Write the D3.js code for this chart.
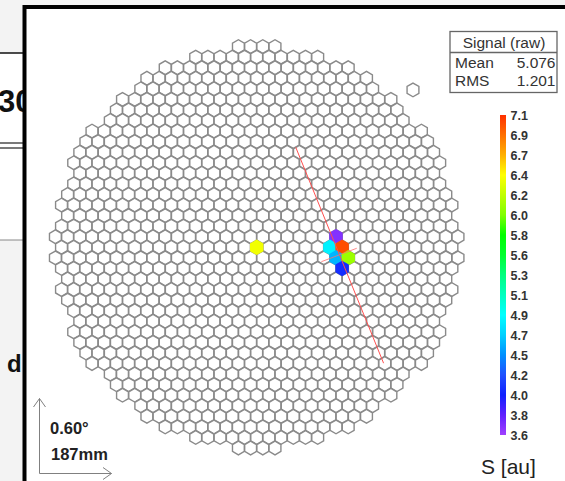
<!DOCTYPE html>
<html><head><meta charset="utf-8">
<script src="https://cdn.jsdelivr.net/npm/d3@7"></script>
<style>
html,body{margin:0;padding:0;background:#fff;}
svg{display:block;font-family:"Liberation Sans",Arial,sans-serif;}
</style></head>
<body><svg id="c" width="565" height="481"></svg>
<script>
// ---------- data ----------
const pitchDeg = 0.1;            // pixel pitch in degrees
const cameraRadiusDeg = 1.655;   // pixels whose centres lie inside this radius
// signal pixels: lattice coordinates (q, r) and signal
const sigQ = [0, 6, 7, 7, 6, 7, 6];
const sigR = [0, 0, 0, -1, 1, 1, 2];
const sigVal = [6.4, 4.85, 7.0, 3.7, 4.6, 6.1, 4.1];
// stray pixel outside the main outline (degrees)
const extraX = [1.281];
const extraY = [-1.29];
// Hillas axis (degrees)
const axisMajorX = [0.32, 1.04], axisMajorY = [-0.82, 0.95];
const axisMinorX = [0.53, 0.82], axisMinorY = [0.118, 0.008];
// colour scale
const scaleLabels = ["7.1","6.9","6.7","6.4","6.2","6.0","5.8","5.6","5.3","5.1","4.9","4.7","4.5","4.2","4.0","3.8","3.6"];
const scaleMin = 3.6, scaleMax = 7.1;
const paletteColors = ["#a040ff","#6020ff","#1020ff","#2050ff","#0090ff","#00d0ff","#00ffff","#00ffc0","#00ff80","#00ff30","#00ff00","#80ff00","#c0ff00","#ffff00","#ffb000","#ff7000","#ff3000"];
const statsTitle = "Signal (raw)";
const statsRows = [["Mean","5.076"],["RMS","1.201"]];
const scaleBarText = ["0.60\u00b0","187mm"];
const unitLabel = "S [au]";

// ---------- drawing ----------
const svg = d3.select("#c");
const cx = 256.7, cy = 247.3, pxPerDeg = 122;
const x = d3.scaleLinear().domain([-2, 2]).range([cx - 2*pxPerDeg, cx + 2*pxPerDeg]);
const y = d3.scaleLinear().domain([-2, 2]).range([cy - 2*pxPerDeg, cy + 2*pxPerDeg]);

// background slide pieces on the left
svg.append("rect").attr("x",0).attr("y",0).attr("width",565).attr("height",481).attr("fill","#f3f3f3");
svg.append("rect").attr("x",0).attr("y",53).attr("width",30).attr("height",187).attr("fill","#ffffff");
svg.append("line").attr("x1",0).attr("x2",30).attr("y1",53).attr("y2",53).attr("stroke","#111").attr("stroke-width",1.5);
svg.append("line").attr("x1",0).attr("x2",30).attr("y1",143).attr("y2",143).attr("stroke","#222").attr("stroke-width",1.2);
svg.append("line").attr("x1",0).attr("x2",30).attr("y1",148).attr("y2",148).attr("stroke","#222").attr("stroke-width",1.2);
svg.append("line").attr("x1",0).attr("x2",30).attr("y1",240).attr("y2",240).attr("stroke","#888").attr("stroke-width",1);
svg.append("text").attr("x",-2).attr("y",112).attr("font-size",31).attr("font-weight","bold").attr("fill","#111").text("30");
svg.append("text").attr("x",7).attr("y",372).attr("font-size",24).attr("font-weight","bold").attr("fill","#111").text("d");

// frame
svg.append("rect").attr("x",24.5).attr("y",7).attr("width",600).attr("height",500)
  .attr("fill","#fff").attr("stroke","#000").attr("stroke-width",4);

// camera pixels
const rowH = pitchDeg*Math.sqrt(3)/2;
const pixels = [];
const N = 20;
for (let r = -N; r <= N; r++) for (let q = -N-20; q <= N+20; q++) {
  const px = (q + r/2)*pitchDeg, py = r*rowH;
  if (Math.hypot(px, py) <= cameraRadiusDeg) pixels.push({q, r, px, py, v: null});
}
extraX.forEach((ex,i)=>pixels.push({q:null,r:null,px:ex,py:extraY[i],v:null}));
sigQ.forEach((q,i)=>{
  const p = pixels.find(d=>d.q===q && d.r===sigR[i]);
  if (p) p.v = sigVal[i];
});
const color = d3.scaleLinear()
  .domain(paletteColors.map((c,i)=>scaleMin + (scaleMax-scaleMin)*i/(paletteColors.length-1)))
  .range(paletteColors).clamp(true);

const hexR = pitchDeg/Math.sqrt(3)*0.97;
function hexPath(d){
  const pts = d3.range(6).map(k=>{
    const a = Math.PI/180*(60*k + 30);
    return [x(d.px + hexR*Math.cos(a)), y(d.py + hexR*Math.sin(a))];
  });
  return "M" + pts.map(p=>p.join(",")).join("L") + "Z";
}
svg.append("g").selectAll("path").data(pixels.filter(d=>d.v===null)).join("path")
  .attr("d", hexPath).attr("fill","#fff").attr("stroke","#8a8a8a").attr("stroke-width",1.4);
svg.append("g").selectAll("path").data(pixels.filter(d=>d.v!==null)).join("path")
  .attr("d", hexPath).attr("fill",d=>color(d.v)).attr("stroke",d=>color(d.v)).attr("stroke-width",1.6);

// Hillas axes
svg.append("line").attr("x1",x(axisMajorX[0])).attr("y1",y(axisMajorY[0])).attr("x2",x(axisMajorX[1])).attr("y2",y(axisMajorY[1]))
  .attr("stroke","#ff5050").attr("stroke-width",1);
svg.append("line").attr("x1",x(axisMinorX[0])).attr("y1",y(axisMinorY[0])).attr("x2",x(axisMinorX[1])).attr("y2",y(axisMinorY[1]))
  .attr("stroke","#ff7070").attr("stroke-width",0.8);

// stats box
const sb = svg.append("g");
sb.append("rect").attr("x",450).attr("y",31.5).attr("width",107).attr("height",61).attr("fill","#fff").attr("stroke","#666").attr("stroke-width",1.3);
sb.append("line").attr("x1",450).attr("x2",557).attr("y1",52.5).attr("y2",52.5).attr("stroke","#666").attr("stroke-width",1.3);
sb.append("text").attr("x",504).attr("y",47.5).attr("text-anchor","middle").attr("font-size",15.5).attr("fill","#333").text(statsTitle);
statsRows.forEach((row,i)=>{
  sb.append("text").attr("x",455).attr("y",68+18.3*i).attr("font-size",15.5).attr("fill","#333").text(row[0]);
  sb.append("text").attr("x",555.5).attr("y",68+18.3*i).attr("text-anchor","end").attr("font-size",15.5).attr("fill","#333").text(row[1]);
});

// colour bar
const cbTop = 115, cbBot = 435, cbX = 500, cbW = 6;
const defs = svg.append("defs");
const grad = defs.append("linearGradient").attr("id","pal").attr("x1",0).attr("y1",1).attr("x2",0).attr("y2",0);
paletteColors.forEach((c,i)=>grad.append("stop").attr("offset",i/(paletteColors.length-1)).attr("stop-color",c));
svg.append("rect").attr("x",cbX).attr("y",cbTop).attr("width",cbW).attr("height",cbBot-cbTop).attr("fill","url(#pal)");
const cbScale = d3.scalePoint().domain(scaleLabels).range([cbTop, cbBot]);
svg.append("g").selectAll("text").data(scaleLabels).join("text")
  .attr("x",510.5).attr("y",d=>cbScale(d)+4.5).attr("font-size",12.5).attr("font-weight","bold").attr("fill","#333").text(d=>d);
svg.append("text").attr("x",481).attr("y",474).attr("font-size",21).attr("fill","#222").text(unitLabel);

// scale arrows
const ar = svg.append("g").attr("stroke","#808080").attr("stroke-width",1).attr("fill","none");
ar.append("path").attr("d","M39.5,473.5V398.5M33.5,407L39.5,398.5L45.5,407");
ar.append("path").attr("d","M39.5,473.5H111.5M103,467.5L111.5,473.5L103,479.5");
svg.append("text").attr("x",50).attr("y",433.5).attr("font-size",16.5).attr("font-weight","bold").attr("fill","#222").text(scaleBarText[0]);
svg.append("text").attr("x",51).attr("y",460).attr("font-size",16.5).attr("font-weight","bold").attr("fill","#222").text(scaleBarText[1]);
</script></body></html>
